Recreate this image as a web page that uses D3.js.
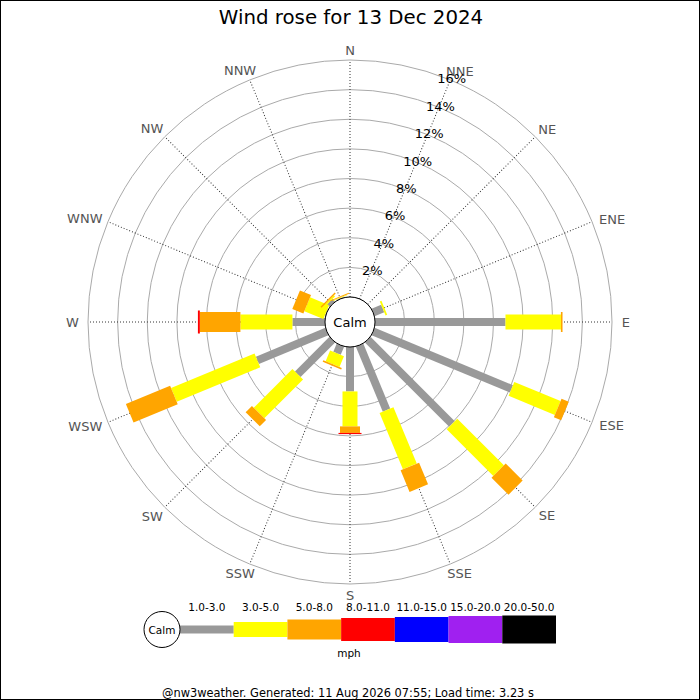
<!DOCTYPE html>
<html>
<head>
  <meta charset="utf-8" />
  <style>
    body { margin: 0; background: #fff; }
    text { font-family: "DejaVu Sans", sans-serif; }
    .ring { fill: none; stroke: #aaa; stroke-width: 1; }
    .spoke { stroke: #333; stroke-width: 1; stroke-dasharray: 1,2; }
  </style>
</head>
<body>
  <svg id="chart" width="700" height="700"></svg>
  <script src="https://cdn.jsdelivr.net/npm/d3@7/dist/d3.min.js"></script>
<script>
var directions = ['N', 'NNE', 'NE', 'ENE', 'E', 'ESE', 'SE', 'SSE',
                  'S', 'SSW', 'SW', 'WSW', 'W', 'WNW', 'NW', 'NNW'];
var speedBins = ['1.0-3.0', '3.0-5.0', '5.0-8.0', '8.0-11.0', '11.0-15.0', '15.0-20.0', '20.0-50.0'];

// percent of the day in each bin, per direction (N .. NNW)
var bin1to3   = [0, 0, 0, 0.70, 8.81, 10.11, 8.05, 4.75, 3.00, 0.60, 3.30, 5.08, 2.20, 0.05, 0.25, 0.05];
var bin3to5   = [0, 0, 0, 0.12, 3.74, 3.38, 4.45, 4.12, 2.36, 0.79, 3.70, 6.10, 3.51, 1.39, 0.10, 0.05];
var bin5to8   = [0, 0, 0, 0, 0.11, 0.53, 1.62, 1.58, 0.44, 0.11, 0.60, 3.23, 2.74, 0.81, 0.10, 0.07];
var bin8to11  = [0, 0, 0, 0, 0, 0, 0, 0, 0.08, 0, 0, 0, 0.13, 0, 0, 0];
var bin11to15 = [0, 0, 0, 0, 0, 0, 0, 0, 0, 0, 0, 0, 0, 0, 0, 0];
var bin15to20 = [0, 0, 0, 0, 0, 0, 0, 0, 0, 0, 0, 0, 0, 0, 0, 0];
var bin20to50 = [0, 0, 0, 0, 0, 0, 0, 0, 0, 0, 0, 0, 0, 0, 0, 0];

var ringTicks = [2, 4, 6, 8, 10, 12, 14, 16];
var ringLabels = ['2%', '4%', '6%', '8%', '10%', '12%', '14%', '16%'];

var binColors = ['#999999', '#ffff00', '#ffa500', '#ff0000', '#0000ff', '#a020f0', '#000000'];
var binWidths = [8, 15, 20, 23, 25, 27, 28];

var svg = d3.select('#chart');
var cx = 350, cy = 322;

svg.append('rect')
  .attr('x', 0.5).attr('y', 0.5).attr('width', 699).attr('height', 699)
  .attr('fill', 'none').attr('stroke', '#000');

svg.append('text')
  .attr('x', 351).attr('y', 24)
  .attr('text-anchor', 'middle')
  .attr('font-size', 19.8)
  .text('Wind rose for 13 Dec 2024');

var r = d3.scaleLinear().domain([0, 16]).range([25, 262]);
var angle = d3.scaleLinear().domain([0, directions.length]).range([0, 360]);

var g = svg.append('g').attr('transform', 'translate(' + cx + ',' + cy + ')');

// grid rings and spokes
g.selectAll('.ring')
  .data([0].concat(ringTicks))
  .enter().append('circle')
    .attr('class', 'ring')
    .attr('r', function (d) { return r(d); });

g.selectAll('.spoke')
  .data(directions)
  .enter().append('line')
    .attr('class', 'spoke')
    .attr('transform', function (d, i) { return 'rotate(' + angle(i) + ')'; })
    .attr('y1', -r(0)).attr('y2', -r(16));

// direction labels, pushed out so the box clears the ring
var dirLabels = g.selectAll('.dir')
  .data(directions)
  .enter().append('text')
    .attr('class', 'dir')
    .attr('font-size', 13)
    .attr('fill', '#555')
    .attr('text-anchor', 'middle')
    .attr('dominant-baseline', 'central')
    .text(function (d) { return d; });

dirLabels.each(function (d, i) {
  var deg = angle(i);
  var s2 = Math.sin(2 * deg * Math.PI / 180);
  if (Math.abs(s2) > 0.01) deg += (s2 > 0 ? 1 : -1) * (Math.abs(s2) > 0.9 ? 0.6 : 1.1);
  var a = deg * Math.PI / 180;
  var box = this.getBBox();
  var s = Math.sin(a), c = Math.cos(a);
  var dist = 272.5 + s * s * box.width * 0.4;
  d3.select(this).attr('x', dist * s).attr('y', -dist * c + 0.5);
});

// stacked bars
var keys = ['b0', 'b1', 'b2', 'b3', 'b4', 'b5', 'b6'];
var table = directions.map(function (d, i) {
  return {dir: d, b0: bin1to3[i], b1: bin3to5[i], b2: bin5to8[i], b3: bin8to11[i],
          b4: bin11to15[i], b5: bin15to20[i], b6: bin20to50[i]};
});
var stacked = d3.stack().keys(keys)(table);

var series = g.selectAll('.series')
  .data(stacked)
  .enter().append('g')
    .attr('class', 'series')
    .attr('fill', function (d, k) { return binColors[k]; });

series.selectAll('rect')
  .data(function (d, k) {
    return d.map(function (p, i) { return {lo: p[0], hi: p[1], i: i, k: k}; })
      .filter(function (p) { return p.hi > p.lo; });
  })
  .enter().append('rect')
    .attr('transform', function (p) { return 'rotate(' + angle(p.i) + ')'; })
    .attr('x', function (p) { return -binWidths[p.k] / 2; })
    .attr('width', function (p) { return binWidths[p.k]; })
    .attr('y', function (p) { return -r(p.hi); })
    .attr('height', function (p) { return r(p.hi) - r(p.lo); });

// calm circle
g.append('circle')
  .attr('r', r(0))
  .attr('fill', '#fff')
  .attr('stroke', '#000');
g.append('text')
  .attr('font-size', 13)
  .attr('text-anchor', 'middle')
  .attr('dominant-baseline', 'central')
  .text('Calm');

// percent labels along the NNE spoke
var labelAngle = angle(1) * Math.PI / 180;
g.selectAll('.pct')
  .data(ringTicks)
  .enter().append('text')
    .attr('class', 'pct')
    .attr('font-size', 13)
    .attr('text-anchor', 'middle')
    .attr('dominant-baseline', 'central')
    .attr('x', function (d) { return r(d) * Math.sin(labelAngle) + 1.5; })
    .attr('y', function (d) { return -r(d) * Math.cos(labelAngle) - 1; })
    .text(function (d, i) { return ringLabels[i]; });

// legend
var lx = d3.scaleBand().domain(speedBins).range([180, 556]);
var legendY = 629.5;
var legend = svg.append('g');

legend.selectAll('rect')
  .data(speedBins)
  .enter().append('rect')
    .attr('x', function (d) { return lx(d); })
    .attr('width', lx.bandwidth())
    .attr('y', function (d, k) { return legendY - binWidths[k] / 2; })
    .attr('height', function (d, k) { return binWidths[k]; })
    .attr('fill', function (d, k) { return binColors[k]; });

legend.selectAll('text.bin')
  .data(speedBins)
  .enter().append('text')
    .attr('class', 'bin')
    .attr('x', function (d) { return lx(d) + lx.bandwidth() / 2; })
    .attr('y', 611)
    .attr('text-anchor', 'middle')
    .attr('font-size', 10.5)
    .text(function (d) { return d; });

legend.append('circle')
  .attr('cx', 162).attr('cy', legendY).attr('r', 18)
  .attr('fill', '#fff').attr('stroke', '#000');
legend.append('text')
  .attr('x', 162).attr('y', legendY)
  .attr('text-anchor', 'middle')
  .attr('dominant-baseline', 'central')
  .attr('font-size', 10.5)
  .text('Calm');

legend.append('text')
  .attr('x', 349).attr('y', 657)
  .attr('text-anchor', 'middle')
  .attr('font-size', 10.5)
  .text('mph');

svg.append('text')
  .attr('x', 348).attr('y', 697)
  .attr('text-anchor', 'middle')
  .attr('font-size', 11.4)
  .text('@nw3weather. Generated: 11 Aug 2026 07:55; Load time: 3.23 s');
</script>
</body>
</html>
